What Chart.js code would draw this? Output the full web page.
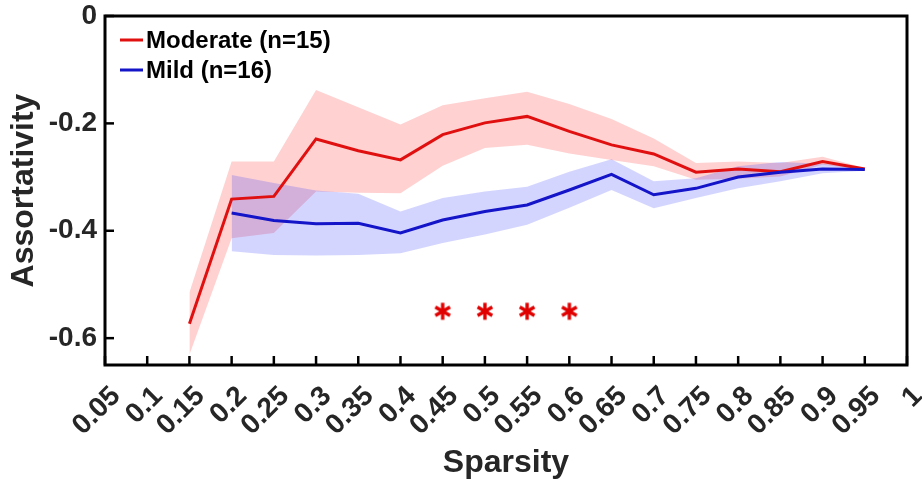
<!DOCTYPE html>
<html><head><meta charset="utf-8">
<script src="https://cdn.jsdelivr.net/npm/chart.js@4.4.0/dist/chart.umd.min.js"></script>
<style>html,body{margin:0;padding:0;background:#fff;}</style>
</head><body>
<canvas id="c" width="922" height="485"></canvas>
<script>
// ---- data ----
const xTicks = [0.05,0.1,0.15,0.2,0.25,0.3,0.35,0.4,0.45,0.5,0.55,0.6,0.65,0.7,0.75,0.8,0.85,0.9,0.95,1];
const xTickLabels = ['0.05','0.1','0.15','0.2','0.25','0.3','0.35','0.4','0.45','0.5','0.55','0.6','0.65','0.7','0.75','0.8','0.85','0.9','0.95','1'];
const yTicks = [0,-0.2,-0.4,-0.6];
const yTickLabels = ['0','-0.2','-0.4','-0.6'];

const moderateX     = [0.15,0.2,0.25,0.3,0.35,0.4,0.45,0.5,0.55,0.6,0.65,0.7,0.75,0.8,0.85,0.9,0.95];
const moderateMean  = [-0.573,-0.341,-0.336,-0.229,-0.251,-0.268,-0.221,-0.199,-0.187,-0.215,-0.240,-0.257,-0.291,-0.285,-0.290,-0.271,-0.285];
const moderateUpper = [-0.515,-0.271,-0.271,-0.138,-0.170,-0.202,-0.166,-0.153,-0.141,-0.164,-0.192,-0.228,-0.274,-0.271,-0.274,-0.262,-0.283];
const moderateLower = [-0.631,-0.414,-0.404,-0.327,-0.329,-0.330,-0.279,-0.246,-0.240,-0.256,-0.268,-0.280,-0.305,-0.303,-0.299,-0.277,-0.287];

const mildX     = [0.2,0.25,0.3,0.35,0.4,0.45,0.5,0.55,0.6,0.65,0.7,0.75,0.8,0.85,0.9,0.95];
const mildMean  = [-0.367,-0.381,-0.387,-0.386,-0.404,-0.380,-0.364,-0.352,-0.324,-0.295,-0.333,-0.321,-0.300,-0.291,-0.285,-0.286];
const mildUpper = [-0.296,-0.311,-0.325,-0.331,-0.364,-0.339,-0.327,-0.318,-0.290,-0.267,-0.308,-0.302,-0.280,-0.272,-0.275,-0.282];
const mildLower = [-0.438,-0.445,-0.446,-0.445,-0.442,-0.423,-0.407,-0.389,-0.357,-0.324,-0.358,-0.339,-0.321,-0.308,-0.293,-0.288];

const sigX = [0.45,0.5,0.55,0.6];
const sigY = [-0.55,-0.55,-0.55,-0.55];

const seriesNames = ['Moderate (n=15)','Mild (n=16)'];
// ---- styles ----
const RED = '#e01010', BLUE = '#1414c8';
const RED_BAND = 'rgba(255,0,0,0.18)', BLUE_BAND = 'rgba(20,30,255,0.19)';
const FONT = 'Liberation Sans';
const TXT = '#262626';

function pts(xs, ys){ return xs.map((x,i)=>({x:x, y:ys[i]})); }

// asterisk marker
const star = document.createElement('canvas');
star.width = 22; star.height = 22;
(function(){
  const g = star.getContext('2d');
  g.strokeStyle = '#e00000'; g.lineWidth = 3.4; g.lineCap = 'butt';
  const r = 8.5;
  for (let k = 0; k < 3; k++) {
    const a = Math.PI/2 + k*Math.PI/3;
    g.beginPath();
    g.moveTo(11 + r*Math.cos(a), 11 + r*Math.sin(a));
    g.lineTo(11 - r*Math.cos(a), 11 - r*Math.sin(a));
    g.stroke();
  }
})();

const framePlugin = {
  id: 'frame',
  afterDraw(chart) {
    const {ctx, chartArea: ca, scales} = chart;
    ctx.save();
    ctx.strokeStyle = '#000';
    ctx.lineWidth = 2.5;
    xTicks.forEach(v => {
      const px = scales.x.getPixelForValue(v);
      ctx.beginPath(); ctx.moveTo(px, ca.bottom); ctx.lineTo(px, ca.bottom - 9); ctx.stroke();
    });
    yTicks.forEach(v => {
      const py = scales.y.getPixelForValue(v);
      ctx.beginPath(); ctx.moveTo(ca.left, py); ctx.lineTo(ca.left + 9, py); ctx.stroke();
    });
    ctx.lineWidth = 3;
    ctx.strokeRect(ca.left, ca.top, ca.right - ca.left, ca.bottom - ca.top);
    // legend
    const rows = [[RED, seriesNames[0]], [BLUE, seriesNames[1]]];
    ctx.font = 'bold 24px "' + FONT + '"';
    ctx.textBaseline = 'middle';
    ctx.fillStyle = '#000';
    rows.forEach((r, i) => {
      const y = ca.top + 24 + i * 30;
      ctx.strokeStyle = r[0]; ctx.lineWidth = 3;
      ctx.beginPath(); ctx.moveTo(ca.left + 15, y); ctx.lineTo(ca.left + 38, y); ctx.stroke();
      ctx.fillText(r[1], ca.left + 41, y + 1);
    });
    ctx.restore();
  }
};

new Chart(document.getElementById('c'), {
  type: 'line',
  data: {
    datasets: [
      {label: 'Moderate', data: pts(moderateX, moderateMean), borderColor: RED, borderWidth: 3, pointRadius: 0, fill: false, tension: 0, order: 1},
      {label: 'Mild', data: pts(mildX, mildMean), borderColor: BLUE, borderWidth: 3, pointRadius: 0, fill: false, tension: 0, order: 0},
      {label: 'sig', type: 'scatter', data: pts(sigX, sigY), pointStyle: star, pointRadius: 11, showLine: false, order: 0},
      {label: 'modU', data: pts(moderateX, moderateUpper), borderWidth: 0, borderColor: 'rgba(0,0,0,0)', pointRadius: 0, backgroundColor: RED_BAND, fill: '+1', tension: 0, order: 5},
      {label: 'modL', data: pts(moderateX, moderateLower), borderWidth: 0, borderColor: 'rgba(0,0,0,0)', pointRadius: 0, fill: false, tension: 0, order: 6},
      {label: 'mildU', data: pts(mildX, mildUpper), borderWidth: 0, borderColor: 'rgba(0,0,0,0)', pointRadius: 0, backgroundColor: BLUE_BAND, fill: '+1', tension: 0, order: 3},
      {label: 'mildL', data: pts(mildX, mildLower), borderWidth: 0, borderColor: 'rgba(0,0,0,0)', pointRadius: 0, fill: false, tension: 0, order: 4}
    ]
  },
  options: {
    responsive: false,
    animation: false,
    devicePixelRatio: 1,
    layout: {padding: {left: 0, right: 15, top: 16, bottom: 0}},
    plugins: {legend: {display: false}, tooltip: {enabled: false}},
    scales: {
      x: {
        type: 'linear', min: 0.05, max: 1,
        afterBuildTicks: s => { s.ticks = xTicks.map(v => ({value: v})); },
        afterFit: s => { s.height = 120; s.paddingLeft = 0; s.paddingRight = 0; },
        grid: {display: false, drawTicks: false},
        border: {display: false},
        ticks: {autoSkip: false, minRotation: 45, maxRotation: 45, padding: 15, labelOffset: 11,
          color: TXT, font: {family: FONT, weight: 'bold', size: 28},
          callback: (v, i) => xTickLabels[i]},
        title: {display: true, text: 'Sparsity', color: TXT, font: {family: FONT, weight: 'bold', size: 32}, padding: {top: 0, bottom: 3}}
      },
      y: {
        type: 'linear', min: -0.65, max: 0,
        afterBuildTicks: s => { s.ticks = yTicks.map(v => ({value: v})); },
        afterFit: s => { s.width = 105; s.paddingTop = 0; s.paddingBottom = 0; },
        grid: {display: false, drawTicks: false},
        border: {display: false},
        ticks: {padding: 8, color: TXT, font: {family: FONT, weight: 'bold', size: 28},
          callback: (v, i) => yTickLabels[i]},
        title: {display: true, text: 'Assortativity', color: TXT, font: {family: FONT, weight: 'bold', size: 32}, padding: {top: 5, bottom: 0}}
      }
    }
  },
  plugins: [framePlugin]
});
</script>
</body></html>
